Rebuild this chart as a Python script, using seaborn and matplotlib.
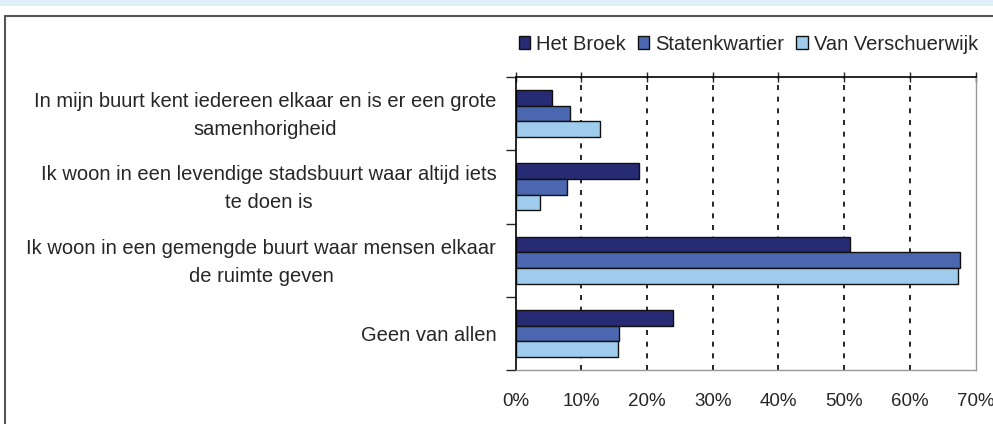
import pandas as pd
import seaborn as sns
import matplotlib.pyplot as plt
from matplotlib.patches import Rectangle
from matplotlib.transforms import ScaledTranslation
from matplotlib.ticker import FixedLocator, PercentFormatter

# data (percent)
statements = ['In mijn buurt kent iedereen elkaar en is er een grote\nsamenhorigheid',
              'Ik woon in een levendige stadsbuurt waar altijd iets\nte doen is',
              'Ik woon in een gemengde buurt waar mensen elkaar\nde ruimte geven',
              'Geen van allen']
areas = ['Het Broek', 'Statenkwartier', 'Van Verschuerwijk']
het_broek = [5.6, 18.7, 50.9, 23.9]
statenkwartier = [8.2, 7.8, 67.7, 15.8]
van_verschuerwijk = [12.8, 3.7, 67.4, 15.6]
colors = ['#272B74', '#4A67B0', '#9FCBEC']

rows = []
for area, vals in zip(areas, [het_broek, statenkwartier, van_verschuerwijk]):
    for s, v in zip(statements, vals):
        rows.append({'statement': s, 'area': area, 'pct': v})
df = pd.DataFrame(rows)

sns.set_style('white')
plt.rcParams['font.family'] = ['Liberation Sans', 'DejaVu Sans']
fs = 14.5

fig = plt.figure(figsize=(9.93, 4.24), dpi=100)
# light band at the top and the outer frame
fig.patches.append(Rectangle((0, 1 - 6/424), 1, 6/424, transform=fig.transFigure,
                             facecolor='#DDF0FA', edgecolor='none'))
fig.patches.append(Rectangle((5/993, -0.1), 1.2, 1 - 16/424 + 0.1, transform=fig.transFigure,
                             facecolor='none', edgecolor='#555555', lw=1.5))

ax = fig.add_axes([515.7/993, 1 - 370/424, 459.8/993, 293/424])
sns.barplot(data=df, y='statement', x='pct', hue='area', order=statements,
            hue_order=areas, palette=colors, saturation=1, orient='h', width=0.64, gap=0,
            edgecolor='#111111', linewidth=1, ax=ax, legend=True)

ax.set_xlim(0, 70)
ax.set_ylim(3.5, -0.5)
ax.set_xlabel('')
ax.set_ylabel('')
ax.xaxis.set_major_formatter(PercentFormatter(decimals=0))
ax.set_xticks(range(0, 71, 10))
ax.grid(axis='x', color='black', linestyle=(0, (3, 4)), linewidth=1.2)
ax.set_axisbelow(True)
gl = ax.get_xgridlines()
gl[0].set_visible(False)
gl[-1].set_visible(False)

for side in ['top', 'left']:
    ax.spines[side].set_color('black')
    ax.spines[side].set_linewidth(1.2)
for side in ['bottom', 'right']:
    ax.spines[side].set_color('#999999')
    ax.spines[side].set_linewidth(1)

ax.tick_params(axis='x', which='major', bottom=False, top=True, labelbottom=True,
               direction='inout', length=7, width=1, pad=13, labelsize=13.5)
ax.tick_params(axis='y', which='major', length=0, pad=14, labelsize=fs)
ax.yaxis.set_minor_locator(FixedLocator([-0.5, 0.5, 1.5, 2.5, 3.5]))
ax.tick_params(axis='y', which='minor', left=True, direction='out', length=7, width=1)
# two-line labels sit a little higher in the original
shift = ScaledTranslation(0, 4.5/100, fig.dpi_scale_trans)
for lbl in ax.get_yticklabels():
    lbl.set_multialignment('center')
    lbl.set_linespacing(1.6)
    if '\n' in lbl.get_text():
        lbl.set_transform(lbl.get_transform() + shift)

ax.legend(loc='lower right', bbox_to_anchor=(1.005, 1.08), ncol=3, frameon=False,
          fontsize=fs, handlelength=0.55, handleheight=0.55, handletextpad=0.3,
          columnspacing=0.6, borderaxespad=0, borderpad=0)

fig.savefig('out.png', dpi=100)
